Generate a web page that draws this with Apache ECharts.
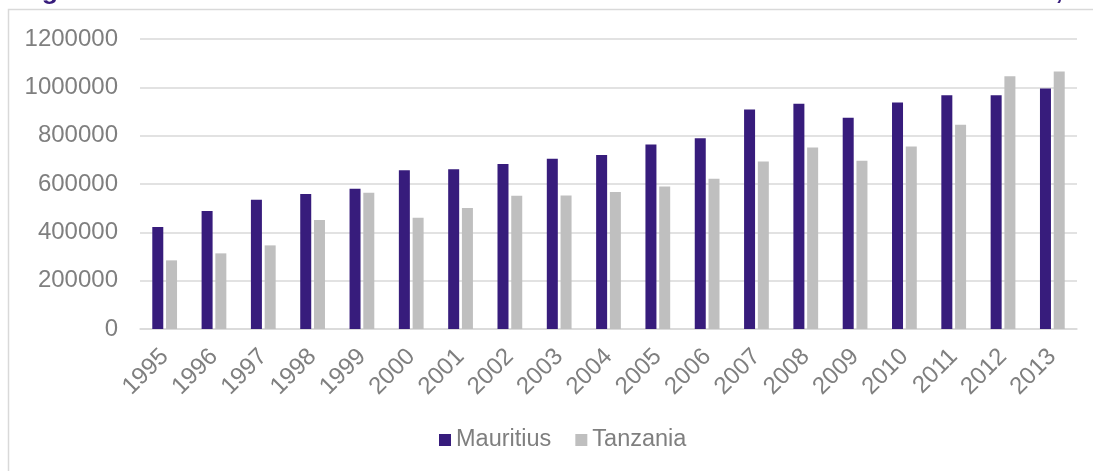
<!DOCTYPE html>
<html>
<head>
<meta charset="utf-8">
<script src="https://cdn.jsdelivr.net/npm/echarts@6/dist/echarts.min.js"></script>
<style>
  html, body { margin: 0; padding: 0; background: #fff; }
  #chart { width: 1093px; height: 471px; }
</style>
</head>
<body>
<div id="chart"></div>
<script>
// data
const years = ['1995','1996','1997','1998','1999','2000','2001','2002','2003','2004',
  '2005','2006','2007','2008','2009','2010','2011','2012','2013']
const mauritius = [422000, 488000, 535000, 559000, 580000, 657000, 661000, 683000, 704000, 720000,
  763000, 789000, 908000, 932000, 874000, 937000, 967000, 967000, 995000]
const tanzania = [284000, 313000, 346000, 451000, 564000, 460000, 501000, 551000, 552000, 567000,
  590000, 622000, 693000, 751000, 696000, 755000, 845000, 1046000, 1066000]

const FONT = '"Liberation Sans", Arial, sans-serif'
const chart = echarts.init(document.getElementById('chart'))

const option = {
  animation: false,
  color: ['#371c7c', '#bfbfbf'],
  textStyle: { fontFamily: FONT },
  graphic: [
    {
      type: 'rect',
      shape: { x: 8.5, y: 9.5, width: 1200, height: 600 },
      style: { fill: 'none', stroke: '#d9d9d9', lineWidth: 1.5 },
      silent: true
    },
    {
      // title sits above the crop, only descenders show
      type: 'text',
      x: 18,
      y: 5,
      style: {
        text: 'Figure 1: International tourist arrivals in Mauritius and Tanzania from 1995 to 2013,',
        font: 'bold 26.7px ' + FONT,
        fill: '#371c7c',
        verticalAlign: 'bottom'
      },
      silent: true
    }
  ],
  legend: {
    bottom: 14,
    left: 434,
    itemWidth: 12,
    itemHeight: 12,
    itemGap: 24,
    icon: 'rect',
    textStyle: { fontSize: 23.5, color: '#7f7f7f', fontFamily: FONT },
    data: ['Mauritius', 'Tanzania']
  },
  grid: {
    left: 140,
    right: 16,
    top: 39,
    bottom: 142
  },
  xAxis: {
    type: 'category',
    data: years,
    axisLine: { lineStyle: { color: '#d9d9d9', width: 1.5 } },
    axisTick: { show: false },
    axisLabel: {
      rotate: 45,
      interval: 0,
      margin: 24,
      fontSize: 24,
      color: '#7f7f7f',
      fontFamily: FONT
    }
  },
  yAxis: {
    type: 'value',
    min: 0,
    max: 1200000,
    interval: 200000,
    axisLine: { show: false },
    axisTick: { show: false },
    axisLabel: {
      margin: 22,
      fontSize: 24,
      color: '#7f7f7f',
      fontFamily: FONT,
      formatter: (v) => String(v)
    },
    splitLine: { lineStyle: { color: '#d9d9d9', width: 1.5 } }
  },
  series: [
    {
      name: 'Mauritius',
      type: 'bar',
      barWidth: 11,
      barGap: '25%',
      data: mauritius
    },
    {
      name: 'Tanzania',
      type: 'bar',
      barWidth: 11,
      barGap: '25%',
      data: tanzania
    }
  ]
}

chart.setOption(option)
</script>
</body>
</html>
